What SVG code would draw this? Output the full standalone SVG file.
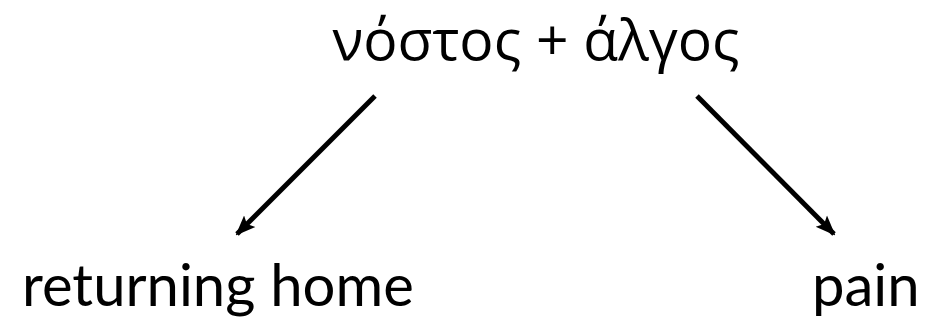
<svg xmlns="http://www.w3.org/2000/svg" width="927" height="327" viewBox="0 0 927 327">
<style>
.t{fill:#000;font-family:"Open Sans","Noto Sans","DejaVu Sans",sans-serif;font-size:57px}
.b{fill:#000;font-family:Lato,"Open Sans",sans-serif;font-size:58px}
.c{stroke:#000;stroke-width:5;fill:none}
</style>
<defs>
<marker id="ah" markerUnits="userSpaceOnUse" markerWidth="20" markerHeight="20" viewBox="0 0 20 20" refX="18" refY="10" orient="auto">
<path d="M0,2 L20,10 L0,18 L4,10 Z" fill="#000"/>
</marker>
</defs>
<rect width="927" height="327" fill="#fff"/>
<g id="top"><text class="t" x="536" y="60" text-anchor="middle">νόστος + άλγος</text></g>
<g id="home"><text class="b" x="22" y="306">returning home</text></g>
<g id="pain"><text class="b" x="812" y="306">pain</text></g>
<g id="connectors">
<line class="c" x1="375" y1="96" x2="237" y2="234" marker-end="url(#ah)"/>
<line class="c" x1="697" y1="96" x2="834" y2="234" marker-end="url(#ah)"/>
</g>
</svg>
